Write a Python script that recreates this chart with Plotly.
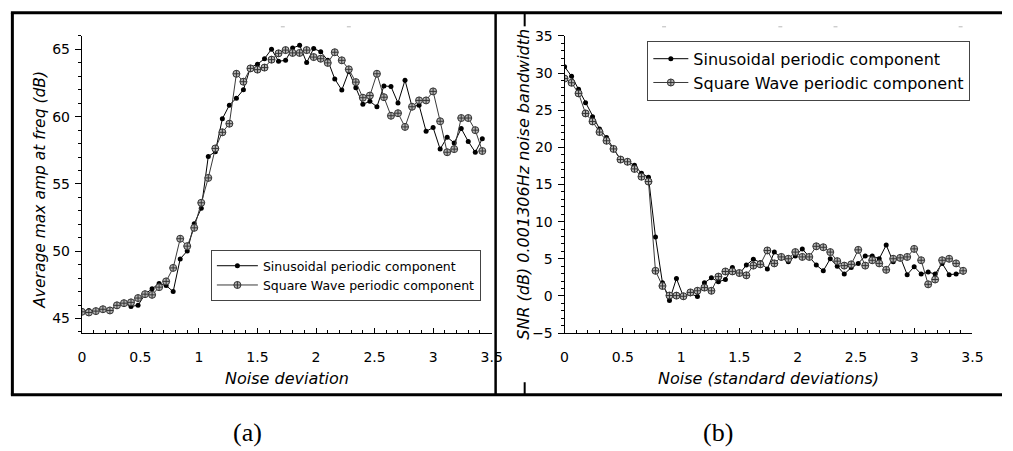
import plotly.graph_objects as go

W, H = 1013, 451

# Noise level (standard deviations) shared by both panels
noise = [0.0, 0.06, 0.12, 0.18, 0.24, 0.3, 0.36, 0.42, 0.48, 0.54,
         0.6, 0.66, 0.72, 0.78, 0.84, 0.9, 0.96, 1.02, 1.08, 1.14,
         1.2, 1.26, 1.32, 1.38, 1.44, 1.5, 1.56, 1.62, 1.68, 1.74,
         1.8, 1.86, 1.92, 1.98, 2.04, 2.1, 2.16, 2.22, 2.28, 2.34,
         2.4, 2.46, 2.52, 2.58, 2.64, 2.7, 2.76, 2.82, 2.88, 2.94,
         3.0, 3.06, 3.12, 3.18, 3.24, 3.3, 3.36, 3.42]

# (a) average max amplitude at frequency (dB)
amp_sin = [45.57, 45.6, 45.57, 45.69, 45.6, 45.98, 46.14, 45.9, 45.98, 46.81,
           47.21, 47.6, 47.45, 47.0, 49.43, 50.02, 52.05, 53.19, 57.05, 57.4,
           59.84, 60.86, 61.38, 62.0, 63.66, 63.9, 64.31, 65.02, 64.12, 64.19,
           65.1, 65.31, 64.02, 65.07, 64.83, 64.19, 62.81, 61.98, 63.36, 62.16,
           60.93, 61.14, 60.74, 62.29, 62.24, 61.02, 62.71, 60.74, 60.86, 58.91,
           59.19, 57.59, 58.48, 58.05, 59.12, 58.16, 57.36, 58.36]
amp_sq = [45.5, 45.45, 45.55, 45.69, 45.6, 45.98, 46.14, 46.2, 46.52, 46.81,
          46.76, 47.33, 47.76, 48.76, 50.93, 50.38, 51.74, 53.6, 55.45, 57.64,
          58.84, 59.48, 63.19, 62.6, 63.59, 63.5, 63.65, 64.24, 64.71, 64.95,
          64.74, 64.74, 64.95, 64.43, 64.31, 64.0, 64.79, 64.19, 63.52, 62.57,
          61.41, 61.57, 63.19, 61.45, 60.07, 60.26, 59.24, 60.74, 61.21, 61.21,
          61.88, 59.66, 57.36, 57.59, 59.9, 59.9, 59.0, 57.45]

# (b) SNR (dB) in a 0.001306 Hz noise bandwidth
snr_sin = [30.87, 29.57, 27.83, 26.0, 24.14, 22.49, 21.32, 19.88, 18.36, 18.06,
           17.6, 16.5, 15.97, 7.94, 1.77, -0.61, 2.34, -0.1, 0.3, -0.09,
           1.77, 2.43, 1.9, 2.21, 3.84, 2.95, 4.16, 4.94, 4.5, 3.64,
           5.9, 5.12, 4.6, 5.38, 6.33, 5.25, 4.16, 3.38, 5.0, 4.0,
           2.95, 3.81, 4.38, 5.38, 5.38, 5.0, 6.85, 4.6, 5.25, 2.86,
           3.94, 2.95, 3.21, 2.95, 4.38, 2.86, 2.95, 3.21]
snr_sq = [29.26, 28.7, 27.27, 24.57, 23.49, 22.06, 20.89, 19.79, 18.36, 18.06,
          17.1, 16.05, 15.4, 3.38, 1.34, 0.05, 0.04, -0.05, 0.47, 0.69,
          1.12, 0.69, 2.6, 3.29, 3.3, 3.08, 2.77, 4.08, 4.25, 6.12,
          4.38, 5.25, 5.0, 5.9, 5.25, 5.25, 6.68, 6.55, 5.9, 4.68,
          4.08, 4.25, 6.2, 4.08, 4.8, 4.38, 3.51, 5.0, 5.12, 5.25,
          6.33, 4.8, 1.56, 2.21, 4.8, 5.0, 4.38, 3.38]

series_names = ["Sinusoidal periodic component", "Square Wave periodic component"]
x_ticks = [0, 0.5, 1, 1.5, 2, 2.5, 3, 3.5]
x_ticktext = ["0", "0.5", "1", "1.5", "2", "2.5", "3", "3.5"]


def px(x):
    return x / W


def py(y):
    return 1 - y / H


FONT = "DejaVu Sans"
sin_style = dict(mode="lines+markers", line=dict(color="#000000", width=1),
                 marker=dict(symbol="circle", size=5, color="#000000"))
sq_style = dict(mode="lines+markers", line=dict(color="#3a3a3a", width=1),
                marker=dict(symbol="circle-cross", size=7, color="#b4b4b4",
                            line=dict(color="#333333", width=1)))

fig = go.Figure()
fig.add_trace(go.Scatter(x=noise, y=amp_sin, name=series_names[0], xaxis="x", yaxis="y",
                         legend="legend", **sin_style))
fig.add_trace(go.Scatter(x=noise, y=amp_sq, name=series_names[1], xaxis="x", yaxis="y",
                         legend="legend", **sq_style))
fig.add_trace(go.Scatter(x=noise, y=snr_sin, name=series_names[0], xaxis="x2", yaxis="y2",
                         legend="legend2", **sin_style))
fig.add_trace(go.Scatter(x=noise, y=snr_sq, name=series_names[1], xaxis="x2", yaxis="y2",
                         legend="legend2", **sq_style))

y_top, y_bot = 29, 337


def xaxis(dom, anchor):
    return dict(domain=dom, anchor=anchor, range=[0, 3.5], showgrid=False, zeroline=False,
                showline=True, linecolor="#000000", linewidth=1,
                tickmode="array", tickvals=x_ticks, ticktext=x_ticktext,
                ticks="inside", ticklen=5, tickcolor="#000000", tickwidth=1,
                minor=dict(dtick=0.1, tick0=0, ticks="inside", ticklen=3,
                           tickcolor="#000000", tickwidth=1),
                tickfont=dict(family=FONT, size=14, color="#000000"),
                ticklabelstandoff=11)


def yaxis(rng, dtick, anchor):
    return dict(domain=[py(y_bot), py(y_top)], anchor=anchor, range=rng, showgrid=False,
                zeroline=False, showline=True, linecolor="#000000", linewidth=1,
                dtick=dtick, tick0=0, ticks="outside", ticklen=6, tickcolor="#000000",
                tickwidth=1,
                minor=dict(dtick=1, tick0=0, ticks="outside", ticklen=3,
                           tickcolor="#000000", tickwidth=1),
                tickfont=dict(family=FONT, size=14, color="#000000"),
                ticklabelstandoff=2)


shapes = []
black = dict(color="#000000", width=3)
# Panel frames
shapes.append(dict(type="line", xref="paper", yref="paper", x0=px(8.5), x1=px(8.5),
                   y0=py(5), y1=py(401), line=black))
shapes.append(dict(type="line", xref="paper", yref="paper", x0=px(7), x1=1,
                   y0=py(5), y1=py(5), line=black))
shapes.append(dict(type="line", xref="paper", yref="paper", x0=px(7), x1=1,
                   y0=py(401), y1=py(401), line=black))
shapes.append(dict(type="line", xref="paper", yref="paper", x0=px(499), x1=px(499),
                   y0=py(5), y1=py(401), line=dict(color="#000000", width=2.5)))
shapes.append(dict(type="line", xref="paper", yref="paper", x0=px(528.5), x1=px(528.5),
                   y0=py(5), y1=py(19), line=dict(color="#000000", width=2)))
shapes.append(dict(type="line", xref="paper", yref="paper", x0=px(528.5), x1=px(528.5),
                   y0=py(388), y1=py(401), line=dict(color="#000000", width=2)))
# faint dashes along the top edge
for xd in [283, 350, 670, 788, 844, 971]:
    shapes.append(dict(type="line", xref="paper", yref="paper", x0=px(xd - 2), x1=px(xd + 2),
                       y0=py(19.5), y1=py(19.5), line=dict(color="#b8b8b8", width=1)))

ann = []


def label(text, x, y, size=14, angle=0, family=FONT):
    ann.append(dict(text=text, xref="paper", yref="paper", x=px(x), y=py(y),
                    xanchor="center", yanchor="middle", showarrow=False, textangle=angle,
                    font=dict(family=family, size=size, color="#000000")))


label("<i>Average max amp at freq (dB)</i>", 37, 188, size=15.5, angle=-90)
label("<i>Noise deviation</i>", 287, 384, size=16)
label("<i>SNR (dB) 0.001306Hz noise bandwidth</i>", 527, 183, size=16, angle=-90)
label("<i>Noise (standard deviations)</i>", 776, 384, size=16)
label("(a)", 247, 440, size=26, family="Liberation Serif")
label("(b)", 725, 440, size=26, family="Liberation Serif")

fig.update_layout(
    width=W, height=H, autosize=False,
    margin=dict(l=0, r=0, t=0, b=0),
    paper_bgcolor="#ffffff", plot_bgcolor="#ffffff",
    showlegend=True,
    xaxis=xaxis([px(79), px(495)], "y"),
    yaxis=yaxis([43.92, 66], 5, "x"),
    xaxis2=xaxis([px(569), px(983)], "y2"),
    yaxis2=yaxis([-5, 35], 5, "x2"),
    legend=dict(x=px(210), y=py(251), xanchor="left", yanchor="top",
                bgcolor="#ffffff", bordercolor="#444444", borderwidth=1,
                font=dict(family=FONT, size=12.5, color="#000000"),
                itemwidth=41, tracegroupgap=0),
    legend2=dict(x=px(653), y=py(34), xanchor="left", yanchor="top",
                 bgcolor="#ffffff", bordercolor="#444444", borderwidth=1,
                 font=dict(family=FONT, size=16, color="#000000"),
                 itemwidth=35, tracegroupgap=0),
    shapes=shapes,
    annotations=ann,
)

fig.write_html("out.html")
